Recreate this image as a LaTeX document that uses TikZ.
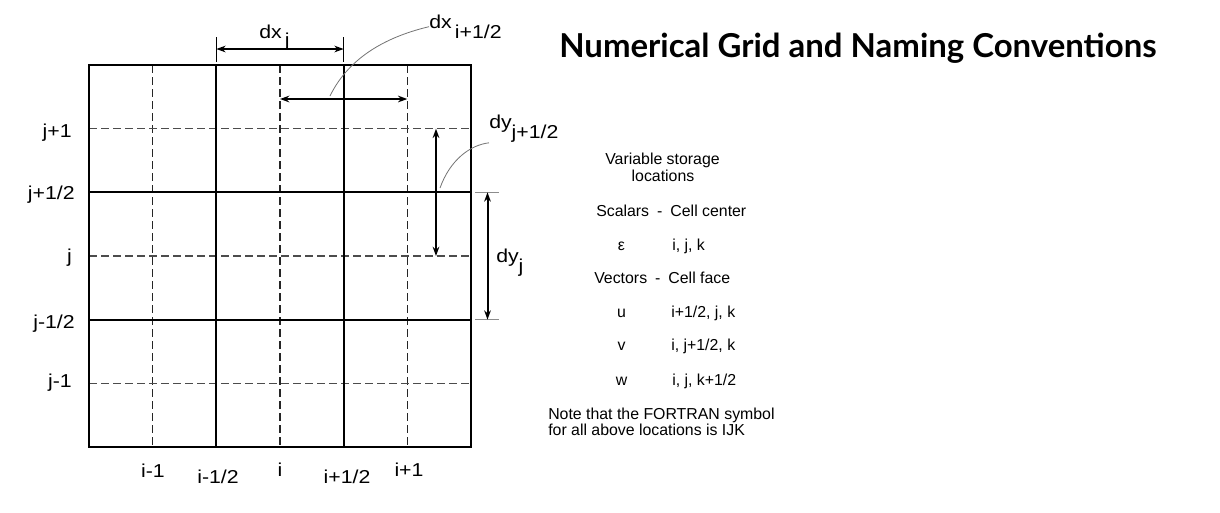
\documentclass[tikz,border=0pt]{standalone}
\usepackage{fontspec}
\setmainfont{Liberation Sans}
\newfontfamily\gridfont[FakeStretch=1.14]{Liberation Sans}
\newfontfamily\titlefont{Lato}
\usetikzlibrary{arrows.meta, positioning}

\begin{document}
\begin{tikzpicture}[x=0.75pt, y=-0.75pt,
    major/.style={line width=1.6pt},
    minor/.style={line width=0.9pt, dash pattern=on 6pt off 3pt},
    dimarrow/.style={{Stealth[length=7pt,width=5pt]}-{Stealth[length=7pt,width=5pt]}, line width=1.5pt},
    leader/.style={black!55, line width=0.6pt},
    gridlbl/.style={font=\gridfont\fontsize{14}{16}\selectfont, inner sep=0pt, anchor=base},
    info/.style={font=\fontsize{11.9}{13}\selectfont, inner sep=0pt, anchor=base}]
    \useasboundingbox (0,0) rectangle (1220,512);

    % Grid
    \foreach \p in {152.67,280,407.33} \draw[minor, black!85] (\p,65) -- (\p,447);
    \foreach \p in {128.67,256,383.33} \draw[minor, black!70] (89,\p) -- (471,\p);
    \foreach \p in {216.33,343.67} \draw[major] (\p,65) -- (\p,447);
    \foreach \p in {192.33,319.67} \draw[major] (89,\p) -- (471,\p);
    \draw[major] (89,65) rectangle (471,447);

    % Row labels
    \node[gridlbl, anchor=base east] (jp1) at (72,137) {j+1};
    \node[gridlbl, anchor=base east] (jph) at (75,199) {j+1/2};
    \node[gridlbl, anchor=base east] (j0) at (72,262) {j};
    \node[gridlbl, anchor=base east] (jmh) at (75,328) {j-1/2};
    \node[gridlbl, anchor=base east] (jm1) at (72,387) {j-1};
    % Column labels
    \node[gridlbl] (im1) at (153,477) {i-1};
    \node[gridlbl] (imh) at (218,483) {i-1/2};
    \node[gridlbl] (i0) at (280,476) {i};
    \node[gridlbl] (iph) at (347,483) {i+1/2};
    \node[gridlbl] (ip1) at (409,476) {i+1};

    % dx_j
    \coordinate (dxjl) at (216.33,49);
    \coordinate (dxjr) at (343.67,49);
    \draw[line width=0.6pt] (216.33,37) -- (216.33,62) (343.67,37) -- (343.67,62);
    \draw[dimarrow] (dxjl) -- (dxjr);
    \node[gridlbl, anchor=base west] (dxj) at (259,38) {dx\,\raisebox{-6pt}{j}};
    % dx_{i+1/2}
    \coordinate (dxhl) at (280,99);
    \coordinate (dxhr) at (407.33,99);
    \coordinate (dxhf) at (330,96);
    \draw[dimarrow] (dxhl) -- (dxhr);
    \node[gridlbl, anchor=base west] (dxh) at (429,28) {dx\,\raisebox{-8pt}{i+1/2}};
    \draw[leader] (dxhf) .. controls (350,55) and (390,36) .. (dxh.west);
    % dy_{j+1/2}
    \coordinate (dyht) at (436,128.67);
    \coordinate (dyhb) at (436,256);
    \coordinate (dyhf) at (440,188);
    \draw[dimarrow] (dyht) -- (dyhb);
    \node[gridlbl, anchor=base west] (dyh) at (489,128) {dy\raisebox{-8pt}{j+1/2}};
    \draw[leader] (dyhf) .. controls (450,160) and (470,145) .. (dyh.south west);
    % dy_j
    \coordinate (dyjt) at (487.5,192.33);
    \coordinate (dyjb) at (487.5,319.67);
    \draw[black!45, line width=1.2pt] (475,192.33) -- (499,192.33) (475,319.67) -- (499,319.67);
    \draw[dimarrow] (dyjt) -- (dyjb);
    \node[gridlbl, anchor=base west] (dyj) at (496,262) {dy\raisebox{-8pt}{j}};

    % Title
    \node[font=\titlefont\bfseries\fontsize{24.7}{28}\selectfont] (title) at (858,48) {Numerical Grid and Naming Conventions};

    % Storage table
    \node[info] (var) at (662.5,164) {Variable storage};
    \node[info] (loc) at (663,181.7) {locations};
    \node[info, anchor=base west] (scal) at (596,216) {Scalars\hspace{6pt}-\hspace{6pt}Cell center};
    \node[info] (eps) at (621.5,250) {ε};
    \node[info, anchor=base west] (epsv) at (672,250) {i, j, k};
    \node[info, anchor=base west] (vect) at (594,283) {Vectors\hspace{6pt}-\hspace{6pt}Cell face};
    \node[info] (u) at (621.5,317) {u};
    \node[info, anchor=base west] (uv) at (671,317) {i+1/2, j, k};
    \node[info] (v) at (621.5,350.7) {v};
    \node[info, anchor=base west] (vv) at (671,350.7) {i, j+1/2, k};
    \node[info] (w) at (621.5,385) {w};
    \node[info, anchor=base west] (wv) at (672,385) {i, j, k+1/2};
    \node[info, anchor=base west] (note1) at (548,419) {Note that the FORTRAN symbol};
    \node[info, anchor=base west] (note2) at (548,435) {for all above locations is IJK};
\end{tikzpicture}
\end{document}
